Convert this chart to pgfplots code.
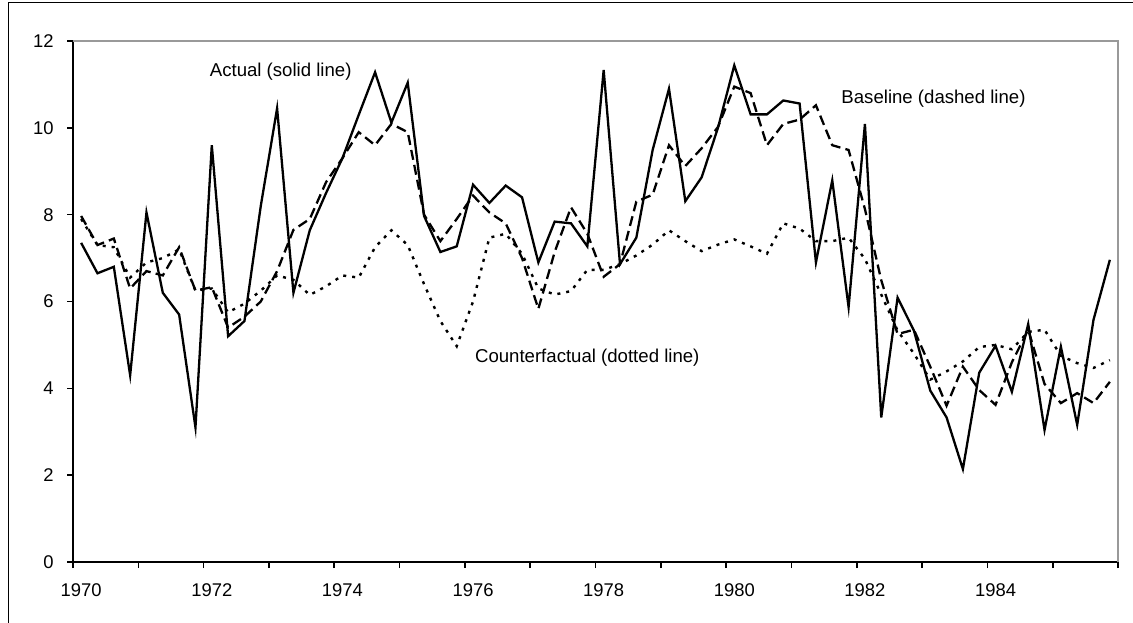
\documentclass[border=0pt]{standalone}
\usepackage{fontspec}
\setmainfont{Liberation Sans}
\usepackage{pgfplots}
\usepackage{pgfplotstable}
\pgfplotsset{compat=1.18}
\pgfplotstableread{
x a b c
1970.125 7.35 7.97 7.90
1970.375 6.65 7.30 7.30
1970.625 6.80 7.45 7.25
1970.875 4.30 6.30 6.55
1971.125 8.05 6.70 6.90
1971.375 6.20 6.60 7.00
1971.625 5.70 7.25 7.20
1971.875 3.10 6.25 6.25
1972.125 9.60 6.33 6.30
1972.375 5.20 5.40 5.75
1972.625 5.55 5.65 5.95
1972.875 8.20 6.00 6.25
1973.125 10.45 6.70 6.60
1973.375 6.20 7.65 6.50
1973.625 7.64 7.90 6.15
1973.875 8.50 8.75 6.35
1974.125 9.30 9.30 6.60
1974.375 10.30 9.90 6.55
1974.625 11.28 9.60 7.25
1974.875 10.12 10.09 7.64
1975.125 11.04 9.90 7.30
1975.375 7.97 8.00 6.40
1975.625 7.14 7.39 5.55
1975.875 7.27 7.90 4.97
1976.125 8.69 8.44 6.00
1976.375 8.27 8.05 7.47
1976.625 8.67 7.80 7.56
1976.875 8.40 7.00 7.10
1977.125 6.90 5.83 6.30
1977.375 7.84 7.14 6.16
1977.625 7.80 8.17 6.24
1977.875 7.27 7.56 6.73
1978.125 11.33 6.57 6.73
1978.375 6.86 6.86 6.86
1978.625 7.47 8.30 7.06
1978.875 9.49 8.46 7.31
1979.125 10.90 9.60 7.64
1979.375 8.31 9.12 7.39
1979.625 8.86 9.53 7.16
1979.875 10.00 10.02 7.31
1980.125 11.44 10.95 7.43
1980.375 10.31 10.80 7.27
1980.625 10.31 9.60 7.10
1980.875 10.63 10.09 7.80
1981.125 10.56 10.19 7.68
1981.375 6.90 10.52 7.39
1981.625 8.79 9.60 7.39
1981.875 5.87 9.49 7.47
1982.125 10.09 8.13 6.98
1982.375 3.33 6.49 6.16
1982.625 6.09 5.25 5.33
1982.875 5.33 5.35 4.80
1983.125 3.95 4.50 4.20
1983.375 3.33 3.60 4.39
1983.625 2.14 4.50 4.62
1983.875 4.36 3.96 4.95
1984.125 4.98 3.62 5.00
1984.375 3.92 4.60 4.90
1984.625 5.48 5.35 5.30
1984.875 3.04 4.10 5.35
1985.125 4.96 3.66 4.75
1985.375 3.16 3.89 4.58
1985.625 5.58 3.66 4.47
1985.875 6.96 4.15 4.65
}\data
\begin{document}
\begin{tikzpicture}
\useasboundingbox (0,0) rectangle (566.5pt,311pt);
\draw[black, line width=0.6pt] (4.2pt,-5pt) -- (4.2pt,309.6pt) -- (580pt,309.6pt);
\begin{axis}[
  at={(36.5pt,30pt)}, anchor=south west, scale only axis,
  width=522.5pt, height=260.5pt,
  xmin=1970, xmax=1986, ymin=0, ymax=12,
  axis x line*=bottom, axis y line*=left,
  axis line style={black, line width=0.9pt},
  xtick={1970,1971,...,1986}, xticklabels={},
  extra x ticks={1970.125,1972.125,1974.125,1976.125,1978.125,1980.125,1982.125,1984.125},
  extra x tick labels={1970,1972,1974,1976,1978,1980,1982,1984},
  extra x tick style={major tick length=0pt, tick style={draw=none},
    xticklabel style={yshift=-7.3pt}},
  ytick={0,2,4,6,8,10,12},
  yticklabel style={xshift=-3.2pt},
  /pgf/number format/assume math mode=true,
  ticklabel style={font=\fontsize{9.2}{10}\selectfont},
  tick align=outside, major tick length=3pt,
  tick style={black, line width=0.8pt},
  clip=false,
]
\draw[gray!80, line width=0.9pt] (rel axis cs:0,1) -- (rel axis cs:1,1) -- (rel axis cs:1,0);
\addplot[black, line width=1.15pt, solid] table[x=x, y=a] {\data};
\addplot[black, line width=1.15pt, dash pattern=on 5pt off 2.6pt] table[x=x, y=b] {\data};
\addplot[black, line width=1.2pt, dash pattern=on 1.5pt off 3pt] table[x=x, y=c] {\data};
\node[anchor=west, inner sep=0pt, font=\fontsize{9.3}{11}\selectfont] at (axis cs:1972.09,11.3) {Actual (solid line)};
\node[anchor=west, inner sep=0pt, font=\fontsize{9.3}{11}\selectfont] at (axis cs:1981.76,10.68) {Baseline (dashed line)};
\node[anchor=west, inner sep=0pt, font=\fontsize{9.3}{11}\selectfont] at (axis cs:1976.15,4.7) {Counterfactual (dotted line)};
\end{axis}
\end{tikzpicture}
\end{document}
